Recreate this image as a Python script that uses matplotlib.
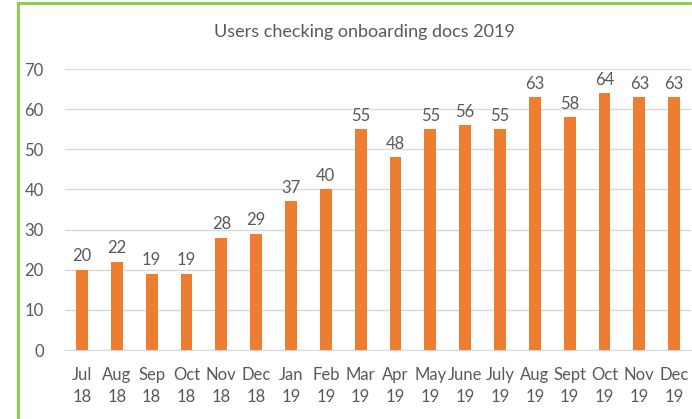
import matplotlib.pyplot as plt
from matplotlib.patches import Rectangle

months = ["Jul\n18", "Aug\n18", "Sep\n18", "Oct\n18", "Nov\n18", "Dec\n18",
          "Jan\n19", "Feb\n19", "Mar\n19", "Apr\n19", "May\n19", "June\n19",
          "July\n19", "Aug\n19", "Sept\n19", "Oct\n19", "Nov\n19", "Dec\n19"]
users = [20, 22, 19, 19, 28, 29, 37, 40, 55, 48, 55, 56, 55, 63, 58, 64, 63, 63]

plt.rcParams['font.family'] = ['Lato', 'DejaVu Sans']
grey = '#595959'

fig = plt.figure(figsize=(6.92, 4.19), dpi=100)
W, H = 692, 419
ax = fig.add_axes([64.6 / W, 1 - 350 / H, (691.5 - 64.6) / W, (350 - 69) / H])

x = range(len(months))
bars = ax.bar(x, users, width=0.34, color='#ED7D31', zorder=3)
ax.bar_label(bars, padding=4, color=grey, fontsize=12)

ax.set_ylim(0, 70)
ax.set_xlim(-0.5, len(months) - 0.5)
ax.set_yticks(range(0, 71, 10))
ax.set_xticks(list(x))
ax.set_xticklabels(months, linespacing=1.45)
ax.tick_params(axis='both', length=0, colors=grey, labelsize=12)
ax.tick_params(axis='y', pad=15)
ax.tick_params(axis='x', pad=12)
ax.grid(axis='y', color='#d9d9d9', linewidth=1, zorder=0)
for s in ['top', 'right', 'left']:
    ax.spines[s].set_visible(False)
ax.spines['bottom'].set_color('#d9d9d9')

fig.text(364 / W, 1 - 32 / H, "Users checking onboarding docs 2019",
         ha='center', va='center', color=grey, fontsize=13)

# green frame around the chart area
fig.patches.append(Rectangle((18 / W, -0.1), 1.2, 1 - 3 / H + 0.1,
                             transform=fig.transFigure, fill=False,
                             edgecolor='#92D050', linewidth=2.2))

fig.savefig('out.png', dpi=100)
